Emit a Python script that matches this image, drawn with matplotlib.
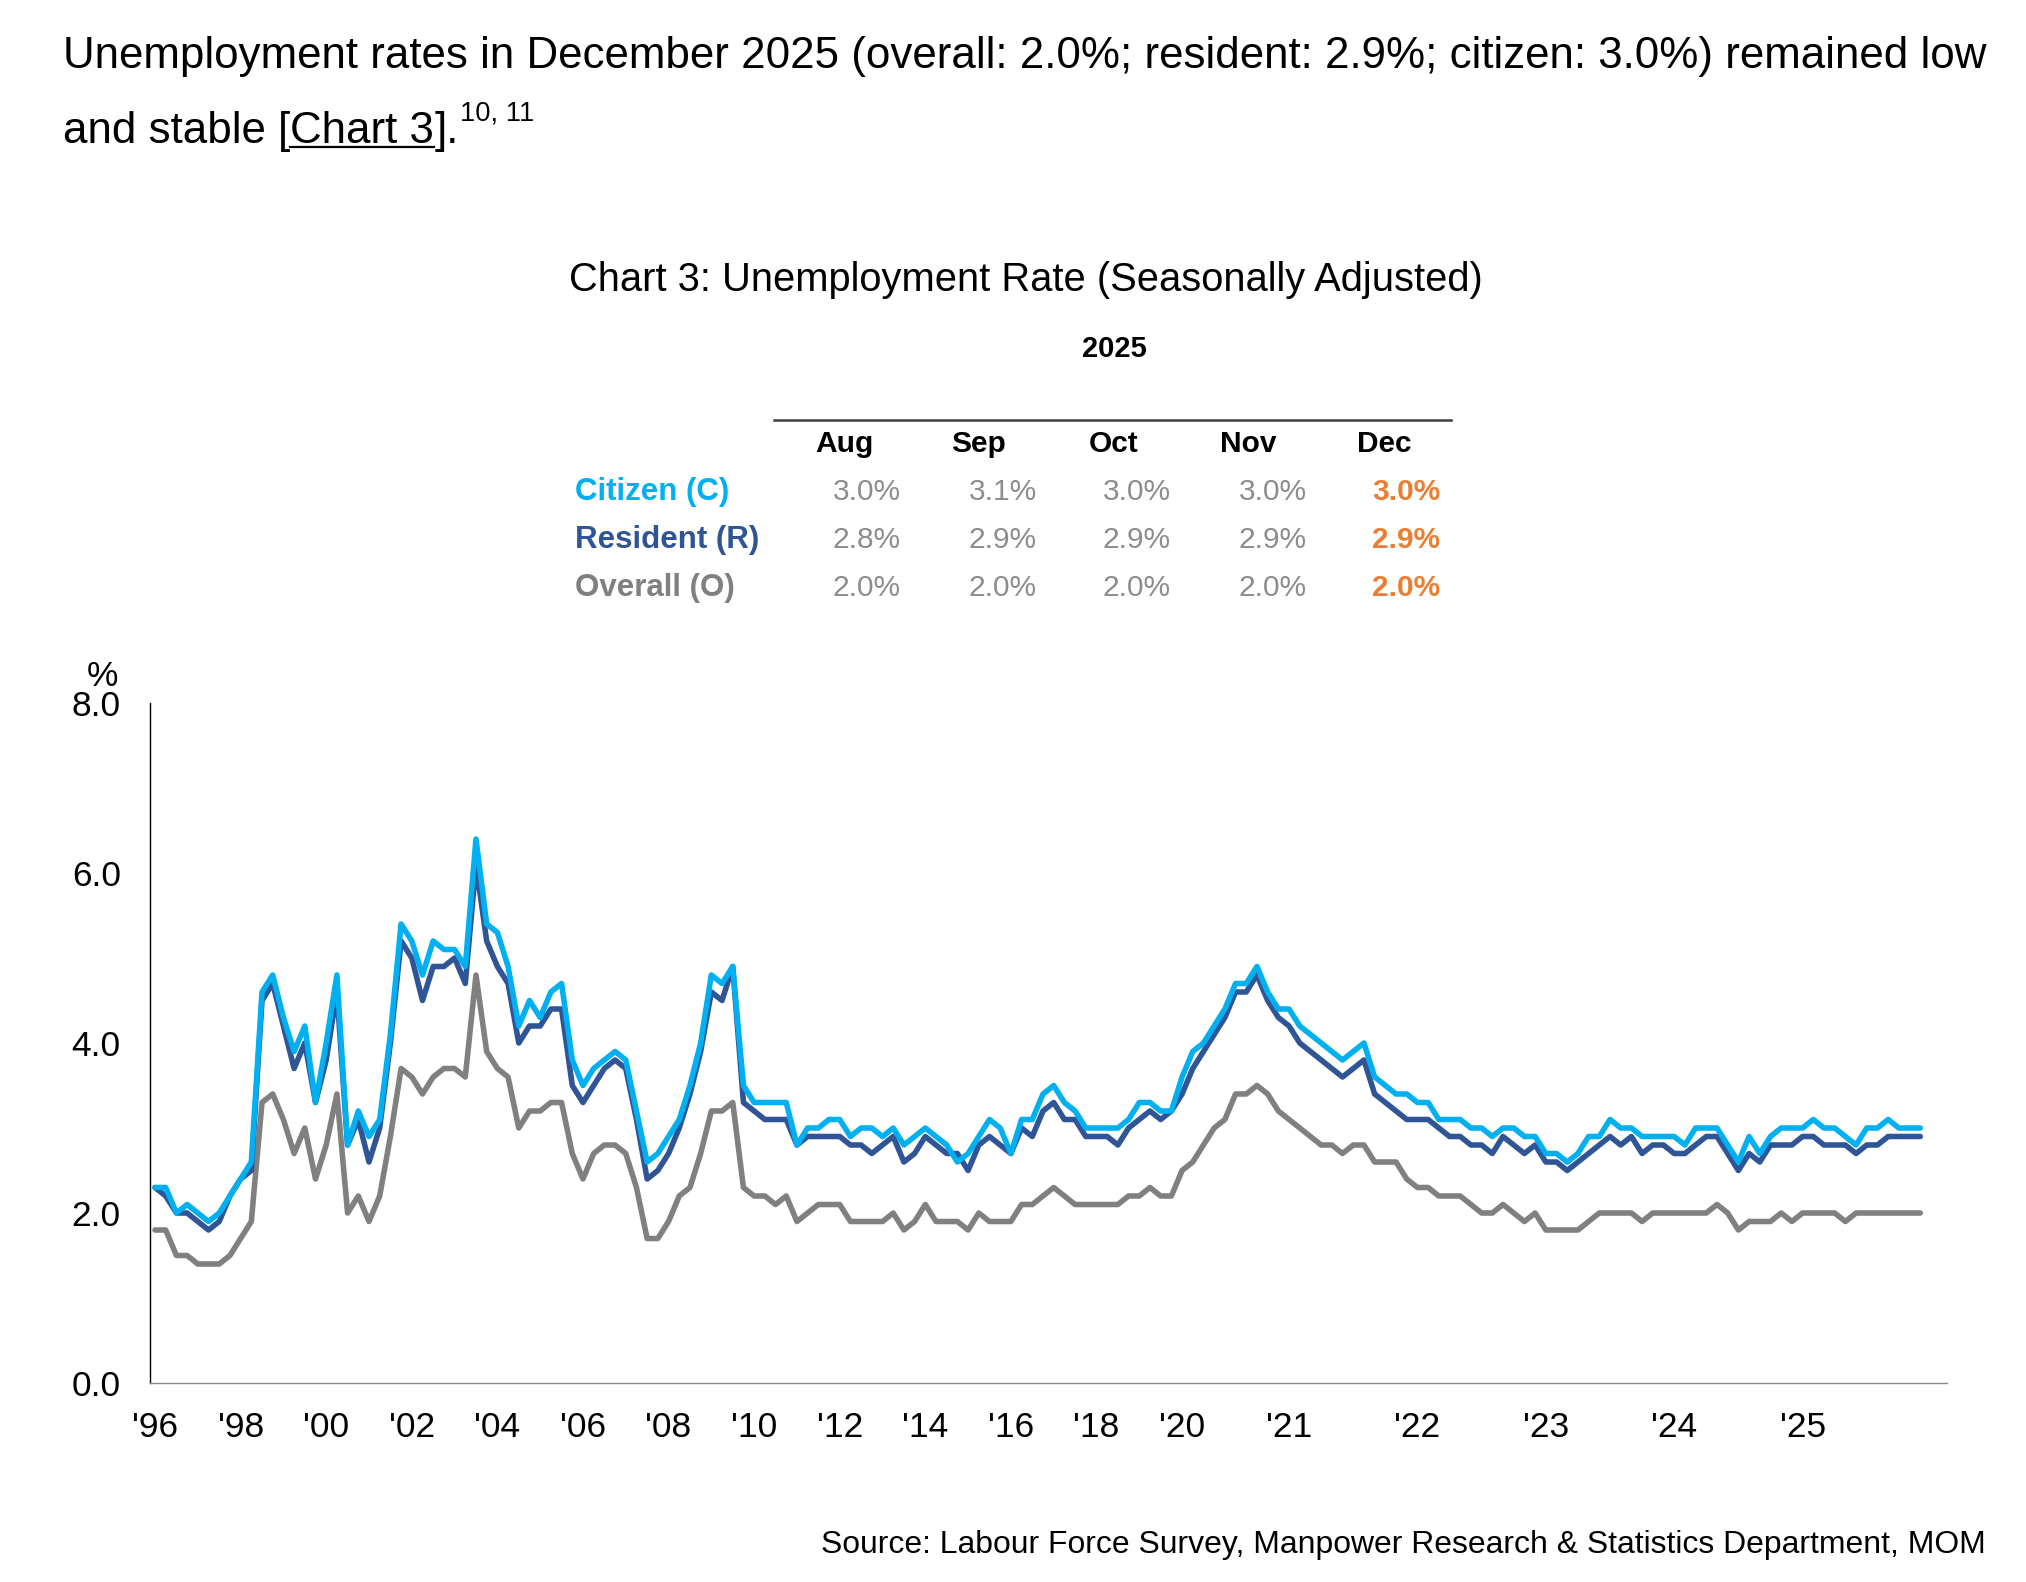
import matplotlib
matplotlib.use("Agg")
import matplotlib.pyplot as plt

plt.rcParams['font.family'] = ['Liberation Sans', 'DejaVu Sans']

W, H = 2026, 1582

# x categories: quarterly 1996Q1-2020Q1, then monthly Apr 2020 - Dec 2025
periods = ([f"{y}Q{q}" for y in range(1996, 2020) for q in range(1, 5)] + ["2020Q1"]
           + [f"2020-{m:02d}" for m in range(4, 13)]
           + [f"{y}-{m:02d}" for y in range(2021, 2026) for m in range(1, 13)])

tick_periods = [f"{y}Q1" for y in range(1996, 2021, 2)] + [f"{y}-01" for y in range(2021, 2026)]
tick_labels = ["'96", "'98", "'00", "'02", "'04", "'06", "'08", "'10", "'12", "'14", "'16",
               "'18", "'20", "'21", "'22", "'23", "'24", "'25"]

citizen = [2.3, 2.3, 2.0, 2.1, 2.0, 1.9, 2.0, 2.2, 2.4, 2.6,
           4.6, 4.8, 4.3, 3.9, 4.2, 3.3, 4.0, 4.8, 2.8, 3.2,
           2.9, 3.1, 4.1, 5.4, 5.2, 4.8, 5.2, 5.1, 5.1, 4.9,
           6.4, 5.4, 5.3, 4.9, 4.2, 4.5, 4.3, 4.6, 4.7, 3.8,
           3.5, 3.7, 3.8, 3.9, 3.8, 3.2, 2.6, 2.7, 2.9, 3.1,
           3.5, 4.0, 4.8, 4.7, 4.9, 3.5, 3.3, 3.3, 3.3, 3.3,
           2.8, 3.0, 3.0, 3.1, 3.1, 2.9, 3.0, 3.0, 2.9, 3.0,
           2.8, 2.9, 3.0, 2.9, 2.8, 2.6, 2.7, 2.9, 3.1, 3.0,
           2.7, 3.1, 3.1, 3.4, 3.5, 3.3, 3.2, 3.0, 3.0, 3.0,
           3.0, 3.1, 3.3, 3.3, 3.2, 3.2, 3.6, 3.9, 4.0, 4.2,
           4.4, 4.7, 4.7, 4.9, 4.6, 4.4, 4.4, 4.2, 4.1, 4.0,
           3.9, 3.8, 3.9, 4.0, 3.6, 3.5, 3.4, 3.4, 3.3, 3.3,
           3.1, 3.1, 3.1, 3.0, 3.0, 2.9, 3.0, 3.0, 2.9, 2.9,
           2.7, 2.7, 2.6, 2.7, 2.9, 2.9, 3.1, 3.0, 3.0, 2.9,
           2.9, 2.9, 2.9, 2.8, 3.0, 3.0, 3.0, 2.8, 2.6, 2.9,
           2.7, 2.9, 3.0, 3.0, 3.0, 3.1, 3.0, 3.0, 2.9, 2.8,
           3.0, 3.0, 3.1, 3.0, 3.0, 3.0]

resident = [2.3, 2.2, 2.0, 2.0, 1.9, 1.8, 1.9, 2.2, 2.4, 2.5,
            4.5, 4.7, 4.2, 3.7, 4.0, 3.3, 3.8, 4.6, 2.8, 3.1,
            2.6, 3.0, 4.0, 5.2, 5.0, 4.5, 4.9, 4.9, 5.0, 4.7,
            6.1, 5.2, 4.9, 4.7, 4.0, 4.2, 4.2, 4.4, 4.4, 3.5,
            3.3, 3.5, 3.7, 3.8, 3.7, 3.1, 2.4, 2.5, 2.7, 3.0,
            3.4, 3.9, 4.6, 4.5, 4.9, 3.3, 3.2, 3.1, 3.1, 3.1,
            2.8, 2.9, 2.9, 2.9, 2.9, 2.8, 2.8, 2.7, 2.8, 2.9,
            2.6, 2.7, 2.9, 2.8, 2.7, 2.7, 2.5, 2.8, 2.9, 2.8,
            2.7, 3.0, 2.9, 3.2, 3.3, 3.1, 3.1, 2.9, 2.9, 2.9,
            2.8, 3.0, 3.1, 3.2, 3.1, 3.2, 3.4, 3.7, 3.9, 4.1,
            4.3, 4.6, 4.6, 4.8, 4.5, 4.3, 4.2, 4.0, 3.9, 3.8,
            3.7, 3.6, 3.7, 3.8, 3.4, 3.3, 3.2, 3.1, 3.1, 3.1,
            3.0, 2.9, 2.9, 2.8, 2.8, 2.7, 2.9, 2.8, 2.7, 2.8,
            2.6, 2.6, 2.5, 2.6, 2.7, 2.8, 2.9, 2.8, 2.9, 2.7,
            2.8, 2.8, 2.7, 2.7, 2.8, 2.9, 2.9, 2.7, 2.5, 2.7,
            2.6, 2.8, 2.8, 2.8, 2.9, 2.9, 2.8, 2.8, 2.8, 2.7,
            2.8, 2.8, 2.9, 2.9, 2.9, 2.9]

overall = [1.8, 1.8, 1.5, 1.5, 1.4, 1.4, 1.4, 1.5, 1.7, 1.9,
           3.3, 3.4, 3.1, 2.7, 3.0, 2.4, 2.8, 3.4, 2.0, 2.2,
           1.9, 2.2, 2.9, 3.7, 3.6, 3.4, 3.6, 3.7, 3.7, 3.6,
           4.8, 3.9, 3.7, 3.6, 3.0, 3.2, 3.2, 3.3, 3.3, 2.7,
           2.4, 2.7, 2.8, 2.8, 2.7, 2.3, 1.7, 1.7, 1.9, 2.2,
           2.3, 2.7, 3.2, 3.2, 3.3, 2.3, 2.2, 2.2, 2.1, 2.2,
           1.9, 2.0, 2.1, 2.1, 2.1, 1.9, 1.9, 1.9, 1.9, 2.0,
           1.8, 1.9, 2.1, 1.9, 1.9, 1.9, 1.8, 2.0, 1.9, 1.9,
           1.9, 2.1, 2.1, 2.2, 2.3, 2.2, 2.1, 2.1, 2.1, 2.1,
           2.1, 2.2, 2.2, 2.3, 2.2, 2.2, 2.5, 2.6, 2.8, 3.0,
           3.1, 3.4, 3.4, 3.5, 3.4, 3.2, 3.1, 3.0, 2.9, 2.8,
           2.8, 2.7, 2.8, 2.8, 2.6, 2.6, 2.6, 2.4, 2.3, 2.3,
           2.2, 2.2, 2.2, 2.1, 2.0, 2.0, 2.1, 2.0, 1.9, 2.0,
           1.8, 1.8, 1.8, 1.8, 1.9, 2.0, 2.0, 2.0, 2.0, 1.9,
           2.0, 2.0, 2.0, 2.0, 2.0, 2.0, 2.1, 2.0, 1.8, 1.9,
           1.9, 1.9, 2.0, 1.9, 2.0, 2.0, 2.0, 2.0, 1.9, 2.0,
           2.0, 2.0, 2.0, 2.0, 2.0, 2.0]

# inset table (2025)
table_year = "2025"
table_months = ["Aug", "Sep", "Oct", "Nov", "Dec"]
table_rows = ["Citizen (C)", "Resident (R)", "Overall (O)"]
table_citizen = [3.0, 3.1, 3.0, 3.0, 3.0]
table_resident = [2.8, 2.9, 2.9, 2.9, 2.9]
table_overall = [2.0, 2.0, 2.0, 2.0, 2.0]

C_CIT = "#00B0F0"
C_RES = "#2F5597"
C_OVR = "#808080"
C_ORANGE = "#ED7D31"

fig = plt.figure(figsize=(W / 100, H / 100), dpi=100)
r = fig.canvas.get_renderer()


def fx(x):
    return x / W


def fy(y):
    return 1 - y / H


def fit(t, target):
    bb = t.get_window_extent(r)
    t.set_fontsize(t.get_fontsize() * target / bb.width)


# paragraph above the chart
line1 = fig.text(fx(63), fy(68), "Unemployment rates in December 2025 (overall: 2.0%; resident: 2.9%; "
                 "citizen: 3.0%) remained low", fontsize=28, va='baseline')
fit(line1, 1923)
fs = line1.get_fontsize()
x = 63
for piece, under in [("and stable ", False), ("[", False), ("Chart 3", True), ("].", False)]:
    t = fig.text(fx(x), fy(143), piece, fontsize=fs, va='baseline')
    bb = t.get_window_extent(r)
    if under:
        fig.add_artist(plt.Line2D([fx(x), fx(x + bb.width)], [fy(147), fy(147)],
                                  color='black', lw=1.6, transform=fig.transFigure))
    x += bb.width
fig.text(fx(x + 1), fy(121), "10, 11", fontsize=fs * 0.62, va='baseline')

# chart title
title = fig.text(fx(1026), fy(280), "Chart 3: Unemployment Rate (Seasonally Adjusted)",
                 fontsize=27, ha='center', va='center')
fit(title, 915)

# table
fig.text(fx(1114), fy(349), table_year, fontsize=21, fontweight='bold', ha='center', va='center')
fig.add_artist(plt.Line2D([fx(774), fx(1451)], [fy(420), fy(420)], color='#404040', lw=1.8,
                          transform=fig.transFigure))
head_x = [844, 978, 1114, 1248, 1384]
val_x = [867, 1003, 1137, 1273, 1406]
row_y = [492, 540, 588]
for m, hx in zip(table_months, head_x):
    fig.text(fx(hx), fy(444), m, fontsize=21.5, fontweight='bold', ha='center', va='center')
for name, col, vals, ry in zip(table_rows, [C_CIT, C_RES, C_OVR],
                               [table_citizen, table_resident, table_overall], row_y):
    fig.text(fx(575), fy(ry), name, fontsize=22.5, fontweight='bold', color=col, ha='left', va='center')
    for j, (v, vx) in enumerate(zip(vals, val_x)):
        last = j == len(vals) - 1
        fig.text(fx(vx), fy(ry), f"{v:.1f}%", fontsize=21.5, ha='center', va='center',
                 color=C_ORANGE if last else '#8C8C8C', fontweight='bold' if last else 'normal')

# main chart
ax = fig.add_axes([fx(150), fy(1383), (1947 - 150) / W, (1383 - 703) / H])
xs = list(range(len(periods)))
ax.plot(xs, overall, color=C_OVR, lw=4.0, solid_capstyle='round', solid_joinstyle='round')
ax.plot(xs, resident, color=C_RES, lw=4.0, solid_capstyle='round', solid_joinstyle='round')
ax.plot(xs, citizen, color=C_CIT, lw=4.0, solid_capstyle='round', solid_joinstyle='round')

ax.set_xlim(-0.47, 167.5)
ax.set_ylim(0, 8)
ax.set_yticks([0, 2, 4, 6, 8])
ax.set_yticklabels(["0.0", "2.0", "4.0", "6.0", "8.0"])
ax.set_xticks([periods.index(p) for p in tick_periods])
ax.set_xticklabels(tick_labels)
ax.tick_params(axis='y', length=0, pad=21, labelsize=25.5)
ax.tick_params(axis='x', length=0, pad=20, labelsize=25.5)
for s in ['top', 'right']:
    ax.spines[s].set_visible(False)
ax.spines['left'].set_color('black')
ax.spines['left'].set_linewidth(1.0)
ax.spines['bottom'].set_color('#8C8C8C')
ax.spines['bottom'].set_linewidth(1.0)

fig.text(fx(102), fy(677), "%", fontsize=25.5, ha='center', va='center')

src = fig.text(fx(1986), fy(1545), "Source: Labour Force Survey, Manpower Research & Statistics Department, MOM",
               fontsize=21, ha='right', va='center')
fit(src, 1164)

fig.savefig("out.png", dpi=100, facecolor='white')
